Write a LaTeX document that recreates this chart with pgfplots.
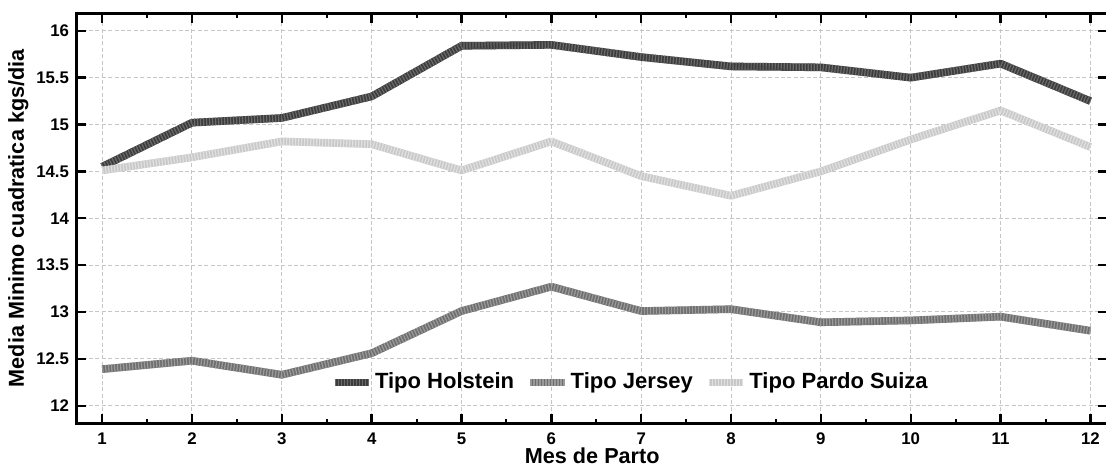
\documentclass[border=0pt]{standalone}
\usepackage{pgfplots}
\pgfplotsset{compat=1.18}
\usepackage{fontspec}
\setmainfont{Liberation Sans}
\definecolor{hol}{HTML}{3C3C3C}
\definecolor{holS}{HTML}{6A6A6A}
\definecolor{jer}{HTML}{6E6E6E}
\definecolor{jerS}{HTML}{9A9A9A}
\definecolor{par}{HTML}{C8C8C8}
\definecolor{parS}{HTML}{E0E0E0}
\begin{document}
\begin{tikzpicture}
\begin{axis}[
  scale only axis,
  width=515.5pt, height=205pt,
  xmin=0.71, xmax=12.2,
  ymin=11.81, ymax=16.19,
  xtick={1,...,12},
  ytick={12,12.5,...,16},
  minor x tick num=1,
  tick align=inside,
  major tick length=5pt,
  minor tick length=2.4pt,
  every major tick/.style={line width=1.2pt,black},
  every minor tick/.style={line width=1pt,black},
  axis line style={line width=1.5pt},
  grid=major,
  major grid style={dashed, dash pattern=on 2pt off 1.2pt, gray!45, line width=0.5pt},
  /pgf/number format/assume math mode=true,
  ticklabel style={font=\fontsize{8.4}{10}\selectfont\bfseries},
  xticklabel style={yshift=-3.5pt, inner sep=1pt},
  yticklabel style={/pgf/number format/.cd, fixed, precision=1},
  xlabel={Mes de Parto},
  ylabel={Media Minimo cuadratica kgs/dia},
  label style={font=\fontsize{10.8}{12}\selectfont\bfseries},
  xlabel style={at={(axis description cs:0.5,0)}, anchor=center, yshift=-16pt, inner sep=0pt},
  ylabel style={yshift=-3pt},
  legend style={at={(0.537,0.1)}, anchor=center, draw=none, fill=none,
    font=\fontsize{11}{12}\selectfont\bfseries, legend columns=3,
    /tikz/every even column/.append style={column sep=5pt},
    nodes={inner sep=1.2pt},
    inner sep=1pt},
  legend cell align=left,
]
\addplot[hol, line width=3.8pt, line join=round,
  postaction={draw=holS, line width=3.8pt, dash pattern=on 0.6pt off 0.9pt}]
  coordinates {(1,14.55) (2,15.02) (3,15.07) (4,15.30) (5,15.84) (6,15.85) (7,15.72) (8,15.62) (9,15.61) (10,15.50) (11,15.65) (12,15.25)};
\addlegendentry{Tipo Holstein}
\addplot[jer, line width=3.8pt, line join=round,
  postaction={draw=jerS, line width=3.8pt, dash pattern=on 0.6pt off 0.9pt}]
  coordinates {(1,12.39) (2,12.48) (3,12.33) (4,12.56) (5,13.01) (6,13.27) (7,13.01) (8,13.03) (9,12.89) (10,12.91) (11,12.95) (12,12.80)};
\addlegendentry{Tipo Jersey}
\addplot[par, line width=3.8pt, line join=round,
  postaction={draw=parS, line width=3.8pt, dash pattern=on 0.6pt off 0.9pt}]
  coordinates {(1,14.51) (2,14.65) (3,14.82) (4,14.79) (5,14.51) (6,14.82) (7,14.45) (8,14.24) (9,14.50) (10,14.84) (11,15.15) (12,14.76)};
\addlegendentry{Tipo Pardo Suiza}
\end{axis}
\pgfresetboundingbox
\path[use as bounding box] ([xshift=-38pt,yshift=-22.5pt]current axis.south west) rectangle ([xshift=-1.2pt,yshift=6.5pt]current axis.north east);
\end{tikzpicture}
\end{document}
